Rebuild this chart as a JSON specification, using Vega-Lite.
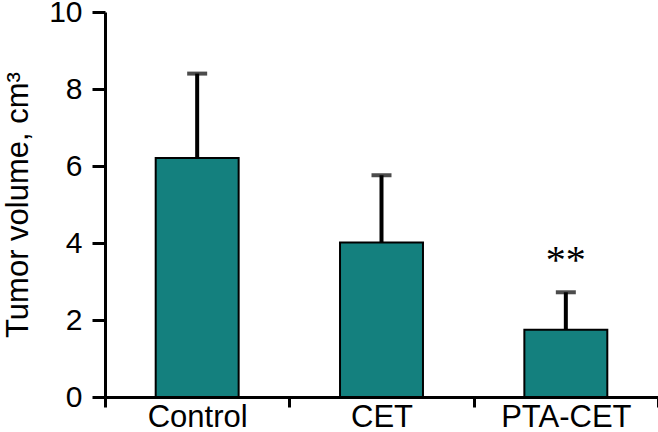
{
  "$schema": "https://vega.github.io/schema/vega-lite/v6.json",
  "width": 553,
  "height": 385,
  "autosize": {"type": "none"},
  "padding": {"left": 105, "top": 12, "right": 0, "bottom": 35},
  "background": "white",
  "config": {
    "view": {"stroke": null},
    "font": "Liberation Sans",
    "axis": {"grid": false, "domainColor": "black", "tickColor": "black", "labelColor": "black", "titleColor": "black", "labelFont": "Liberation Sans", "titleFont": "Liberation Sans"}
  },
  "data": {
    "values": [
      {"group": "Control", "mean": 6.21, "upper": 8.40, "sig": ""},
      {"group": "CET", "mean": 4.01, "upper": 5.76, "sig": ""},
      {"group": "PTA-CET", "mean": 1.75, "upper": 2.72, "sig": "**", "sigY": 3.22}
    ]
  },
  "encoding": {
    "x": {
      "field": "group", "type": "nominal", "sort": null,
      "scale": {"paddingInner": 0, "paddingOuter": 0},
      "axis": {"title": null, "labelAngle": 0, "labelFontSize": 31, "labelPadding": -5, "labelBaseline": "top", "tickBand": "extent", "tickSize": 10, "tickWidth": 3, "domainWidth": 3}
    }
  },
  "layer": [
    {
      "mark": {"type": "bar", "width": {"band": 0.45}, "fill": "#14807e", "stroke": "black", "strokeWidth": 2},
      "encoding": {
        "y": {
          "field": "mean", "type": "quantitative",
          "scale": {"domain": [0, 10], "nice": false},
          "axis": {"values": [0, 2, 4, 6, 8, 10], "title": "Tumor volume, cm³", "titleFontSize": 31, "titleFontWeight": "normal", "titlePadding": 14, "labelFontSize": 30, "labelPadding": 10, "tickSize": 13, "tickWidth": 3, "domainWidth": 3}
        }
      }
    },
    {
      "mark": {"type": "rule", "color": "black", "strokeWidth": 4},
      "encoding": {
        "y": {"field": "mean", "type": "quantitative"},
        "y2": {"field": "upper"}
      }
    },
    {
      "mark": {"type": "tick", "color": "black", "size": 20, "thickness": 4},
      "encoding": {
        "y": {"field": "upper", "type": "quantitative"}
      }
    },
    {
      "mark": {"type": "text", "font": "Liberation Serif", "fontSize": 40, "baseline": "alphabetic", "color": "black"},
      "encoding": {
        "y": {"field": "sigY", "type": "quantitative"},
        "text": {"field": "sig"}
      }
    }
  ]
}
